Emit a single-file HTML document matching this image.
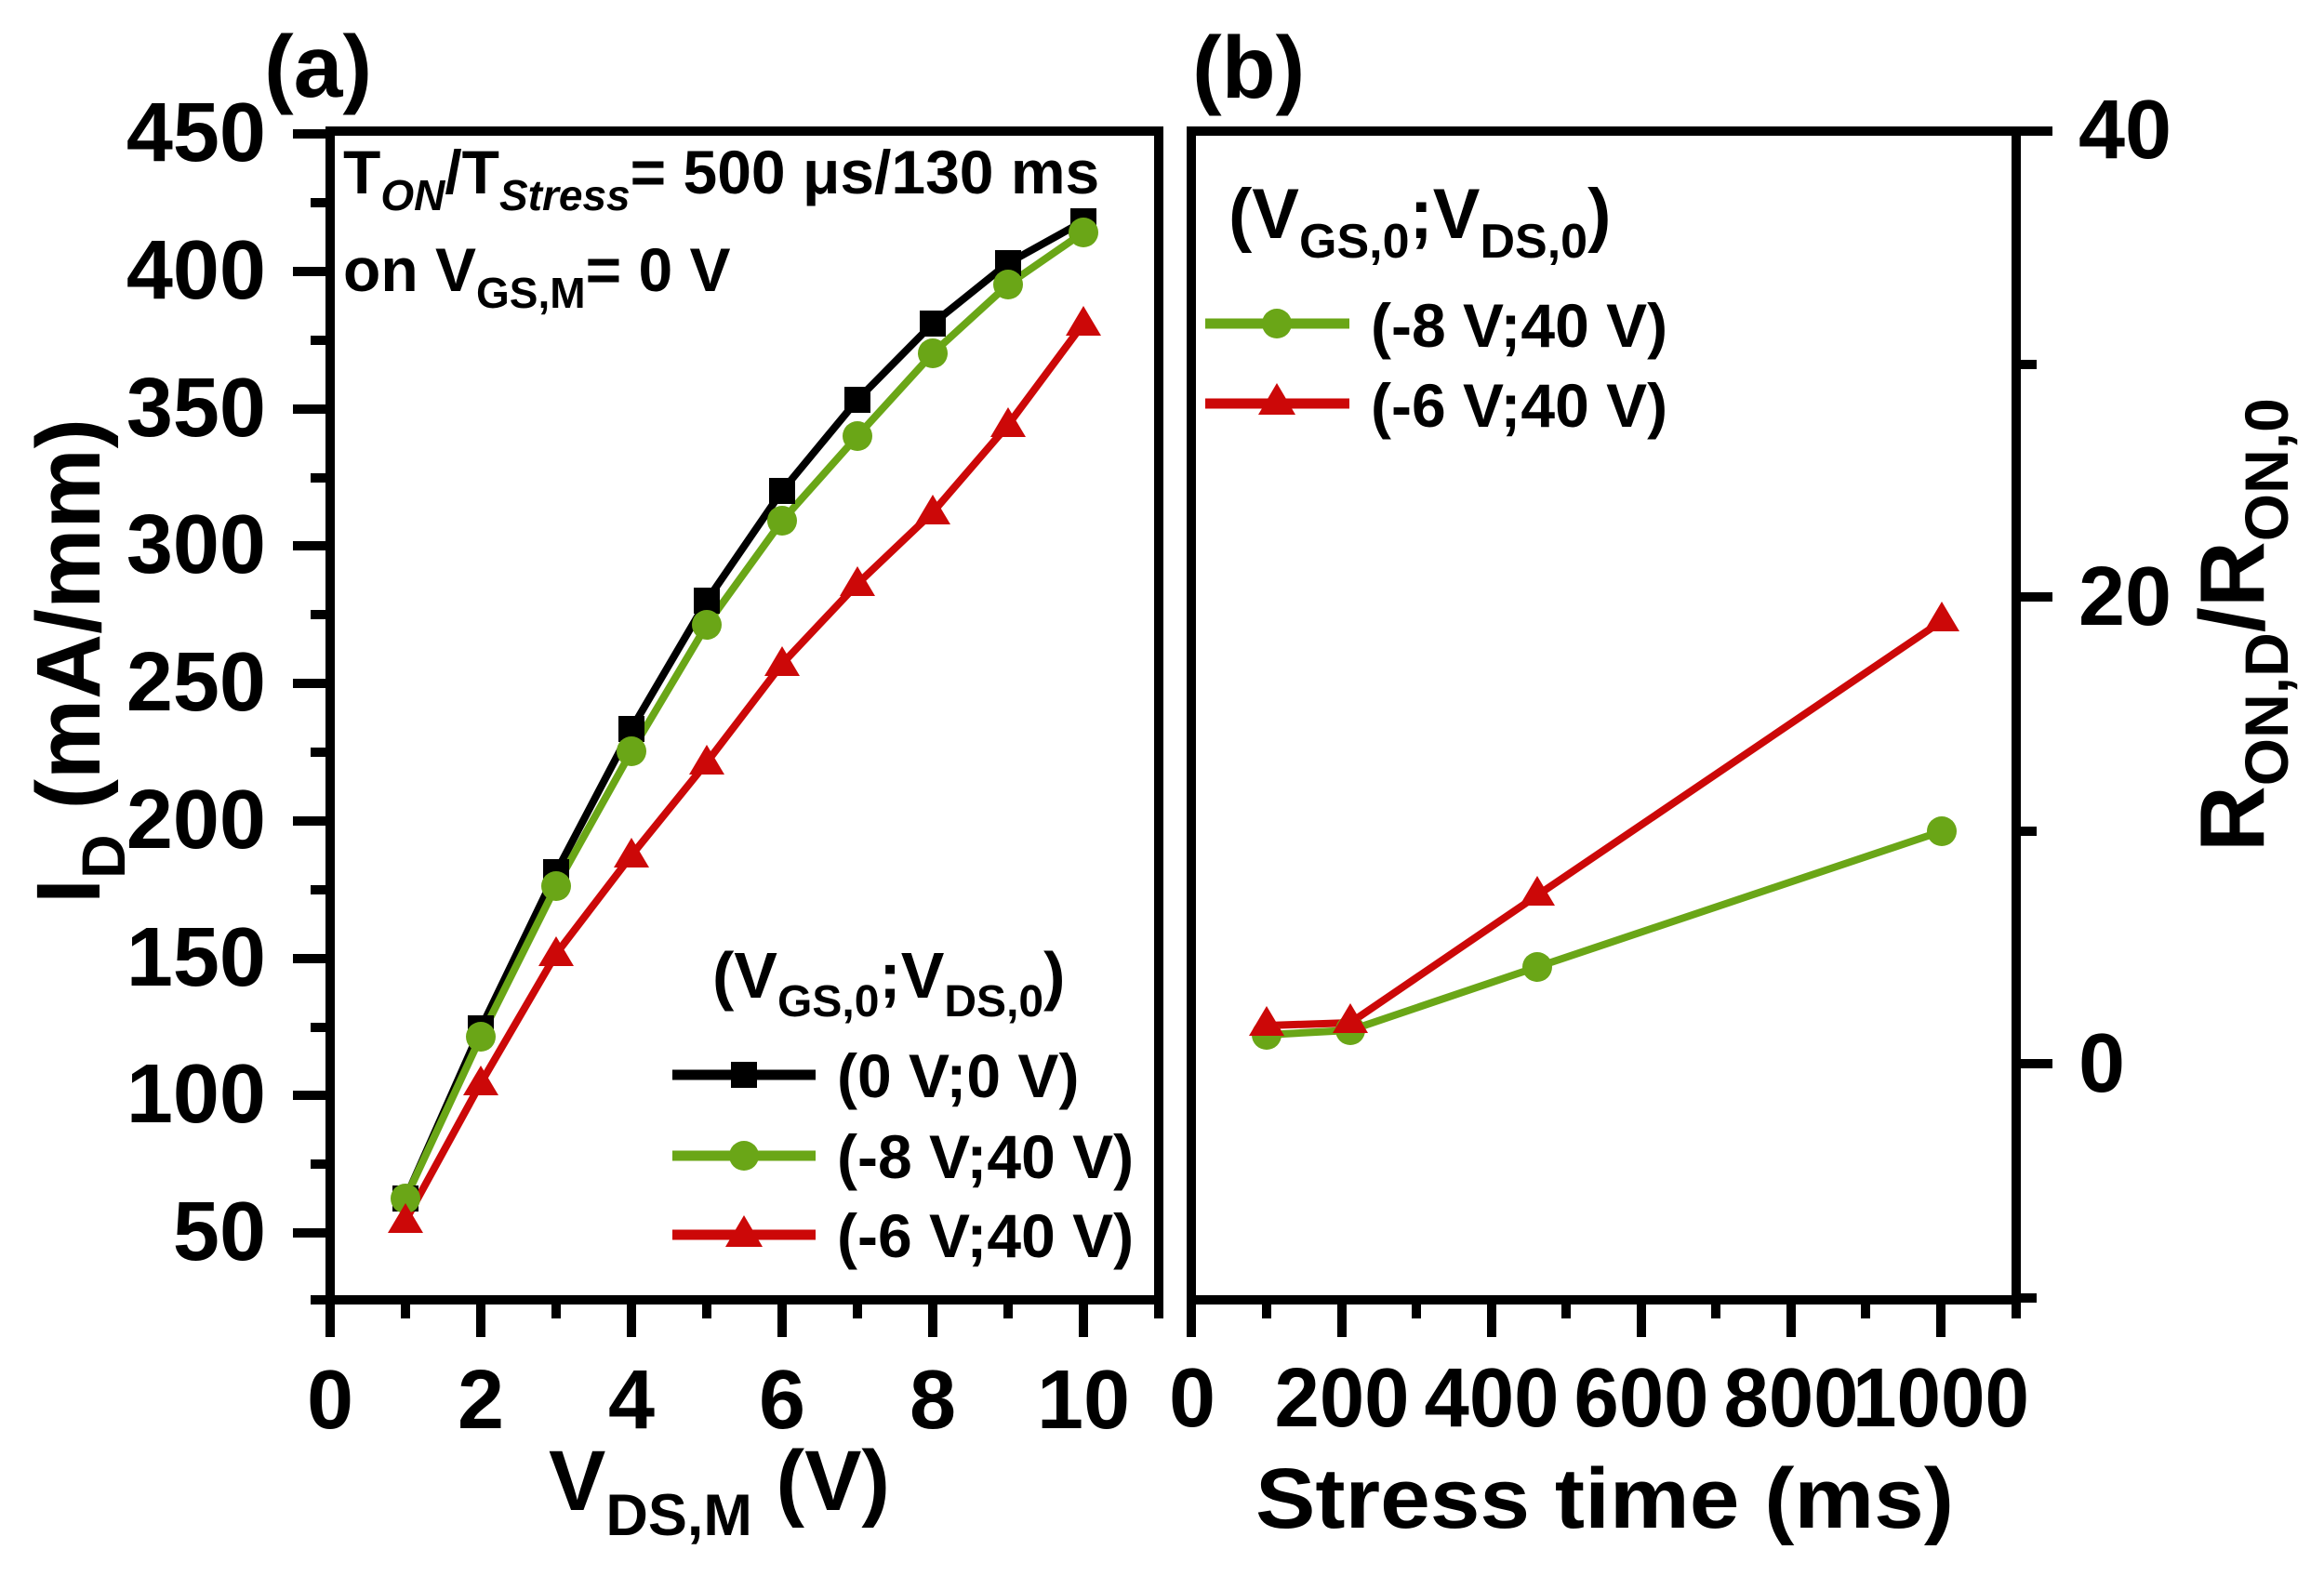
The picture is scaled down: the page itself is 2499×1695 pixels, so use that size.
<!DOCTYPE html>
<html><head><meta charset="utf-8"><style>
html,body{margin:0;padding:0;background:#fff}
svg{display:block}
text{font-family:"Liberation Sans",Arial,sans-serif;font-weight:bold;fill:#000}
</style></head><body>
<svg width="2499" height="1695" viewBox="0 0 2499 1695" xmlns="http://www.w3.org/2000/svg">
<rect x="355" y="141" width="891" height="1257" fill="none" stroke="#000" stroke-width="10"/>
<g stroke="#000" stroke-width="10">
<line x1="315" y1="144" x2="355" y2="144"/><line x1="334" y1="218" x2="355" y2="218"/>
<line x1="315" y1="292" x2="355" y2="292"/><line x1="334" y1="366" x2="355" y2="366"/>
<line x1="315" y1="440" x2="355" y2="440"/><line x1="334" y1="514" x2="355" y2="514"/>
<line x1="315" y1="587" x2="355" y2="587"/><line x1="334" y1="661" x2="355" y2="661"/>
<line x1="315" y1="735" x2="355" y2="735"/><line x1="334" y1="809" x2="355" y2="809"/>
<line x1="315" y1="883" x2="355" y2="883"/><line x1="334" y1="957" x2="355" y2="957"/>
<line x1="315" y1="1031" x2="355" y2="1031"/><line x1="334" y1="1105" x2="355" y2="1105"/>
<line x1="315" y1="1178" x2="355" y2="1178"/><line x1="334" y1="1252" x2="355" y2="1252"/>
<line x1="315" y1="1326" x2="355" y2="1326"/><line x1="334" y1="1398" x2="355" y2="1398"/>
<line x1="355" y1="1398" x2="355" y2="1438"/><line x1="436" y1="1398" x2="436" y2="1418"/>
<line x1="517" y1="1398" x2="517" y2="1438"/><line x1="598" y1="1398" x2="598" y2="1418"/>
<line x1="679" y1="1398" x2="679" y2="1438"/><line x1="760" y1="1398" x2="760" y2="1418"/>
<line x1="841" y1="1398" x2="841" y2="1438"/><line x1="922" y1="1398" x2="922" y2="1418"/>
<line x1="1003" y1="1398" x2="1003" y2="1438"/><line x1="1084" y1="1398" x2="1084" y2="1418"/>
<line x1="1165" y1="1398" x2="1165" y2="1438"/><line x1="1246" y1="1398" x2="1246" y2="1418"/>
</g>
<g font-size="90" text-anchor="end">
<text x="286" y="173">450</text><text x="286" y="321">400</text><text x="286" y="469">350</text>
<text x="286" y="616">300</text><text x="286" y="764">250</text><text x="286" y="912">200</text>
<text x="286" y="1060">150</text><text x="286" y="1207">100</text><text x="286" y="1355">50</text>
</g>
<g font-size="90" text-anchor="middle">
<text x="355" y="1536">0</text><text x="517" y="1536">2</text><text x="679" y="1536">4</text>
<text x="841" y="1536">6</text><text x="1003" y="1536">8</text><text x="1165" y="1536">10</text>
</g>
<text x="284" y="104" font-size="95">(a)</text>
<text x="590" y="1624" font-size="92">V<tspan font-size="63" dy="27">DS,M</tspan><tspan dy="-27"> (V)</tspan></text>
<text transform="translate(107,972) rotate(-90)" font-size="97">I<tspan font-size="66" dy="27">D</tspan><tspan dy="-27"> (mA/mm)</tspan></text>
<text x="369" y="208" font-size="66">T<tspan font-size="46" font-style="italic" dy="18">ON</tspan><tspan dy="-18">/T</tspan><tspan font-size="46" font-style="italic" dy="18">Stress</tspan><tspan dy="-18">= 500 μs/130 ms</tspan></text>
<text x="369" y="313" font-size="66">on V<tspan font-size="46" dy="18">GS,M</tspan><tspan dy="-18">= 0 V</tspan></text>
<g fill="none" stroke-width="8" stroke-linejoin="round">
<polyline stroke="#000" points="436,1289 517,1106 598,938 679,784 760,646 841,528 922,430 1003,348 1084,283 1165,238"/>
<polyline stroke="#6aa617" points="436,1289 517,1115 598,953 679,808 760,672 841,560 922,469 1003,380 1084,306 1165,250"/>
<polyline stroke="#cc0808" points="436,1313 517,1165 598,1026 679,920 760,820 841,714 922,628 1003,551 1084,457 1165,348"/>
</g>
<g fill="#000">
<rect x="422" y="1275" width="28" height="28"/><rect x="503" y="1092" width="28" height="28"/><rect x="584" y="924" width="28" height="28"/><rect x="665" y="770" width="28" height="28"/><rect x="746" y="632" width="28" height="28"/><rect x="827" y="514" width="28" height="28"/><rect x="908" y="416" width="28" height="28"/><rect x="989" y="334" width="28" height="28"/><rect x="1070" y="269" width="28" height="28"/><rect x="1151" y="224" width="28" height="28"/>
</g>
<g fill="#6aa617">
<circle cx="436" cy="1289" r="16"/><circle cx="517" cy="1115" r="16"/><circle cx="598" cy="953" r="16"/><circle cx="679" cy="808" r="16"/><circle cx="760" cy="672" r="16"/><circle cx="841" cy="560" r="16"/><circle cx="922" cy="469" r="16"/><circle cx="1003" cy="380" r="16"/><circle cx="1084" cy="306" r="16"/><circle cx="1165" cy="250" r="16"/>
</g>
<g fill="#cc0808">
<path d="M436,1294 l-19,32 h38z M517,1146 l-19,32 h38z M598,1007 l-19,32 h38z M679,901 l-19,32 h38z M760,801 l-19,32 h38z M841,695 l-19,32 h38z M922,609 l-19,32 h38z M1003,532 l-19,32 h38z M1084,438 l-19,32 h38z M1165,329 l-19,32 h38z"/>
</g>
<text x="766" y="1073" font-size="70">(V<tspan font-size="48" dy="20">GS,0</tspan><tspan dy="-20">;V</tspan><tspan font-size="48" dy="20">DS,0</tspan><tspan dy="-20">)</tspan></text>
<line x1="723" y1="1156" x2="877" y2="1156" stroke="#000" stroke-width="11"/><rect x="786" y="1142" width="28" height="28"/>
<line x1="723" y1="1243" x2="877" y2="1243" stroke="#6aa617" stroke-width="11"/><circle cx="800" cy="1243" r="16" fill="#6aa617"/>
<line x1="723" y1="1328" x2="877" y2="1328" stroke="#cc0808" stroke-width="11"/><path d="M800,1307 l-20,34 h40z" fill="#cc0808"/>
<g font-size="66"><text x="900" y="1180">(0 V;0 V)</text><text x="900" y="1267">(-8 V;40 V)</text><text x="900" y="1352">(-6 V;40 V)</text></g>

<rect x="1281" y="141" width="887" height="1257" fill="none" stroke="#000" stroke-width="10"/>
<g stroke="#000" stroke-width="10">
<line x1="2168" y1="141" x2="2207" y2="141"/><line x1="2168" y1="392" x2="2190" y2="392"/>
<line x1="2168" y1="642" x2="2207" y2="642"/><line x1="2168" y1="894" x2="2190" y2="894"/>
<line x1="2168" y1="1144" x2="2207" y2="1144"/><line x1="2168" y1="1396" x2="2190" y2="1396"/>
<line x1="1281" y1="1398" x2="1281" y2="1438"/><line x1="1362" y1="1398" x2="1362" y2="1418"/>
<line x1="1443" y1="1398" x2="1443" y2="1438"/><line x1="1523" y1="1398" x2="1523" y2="1418"/>
<line x1="1604" y1="1398" x2="1604" y2="1438"/><line x1="1684" y1="1398" x2="1684" y2="1418"/>
<line x1="1765" y1="1398" x2="1765" y2="1438"/><line x1="1845" y1="1398" x2="1845" y2="1418"/>
<line x1="1926" y1="1398" x2="1926" y2="1438"/><line x1="2006" y1="1398" x2="2006" y2="1418"/>
<line x1="2087" y1="1398" x2="2087" y2="1438"/><line x1="2168" y1="1398" x2="2168" y2="1418"/>
</g>
<g font-size="90">
<text x="2235" y="170">40</text><text x="2235" y="672">20</text><text x="2235" y="1174">0</text>
</g>
<g font-size="90" text-anchor="middle">
<text x="1282" y="1534">0</text>
<text x="1443" y="1534" textLength="145" lengthAdjust="spacingAndGlyphs">200</text>
<text x="1604" y="1534" textLength="145" lengthAdjust="spacingAndGlyphs">400</text>
<text x="1765" y="1534" textLength="145" lengthAdjust="spacingAndGlyphs">600</text>
<text x="1926" y="1534" textLength="145" lengthAdjust="spacingAndGlyphs">800</text>
<text x="2087" y="1534" textLength="190" lengthAdjust="spacingAndGlyphs">1000</text>
</g>
<text x="1282" y="105" font-size="95">(b)</text>
<text x="1350" y="1643" font-size="92" textLength="751" lengthAdjust="spacingAndGlyphs">Stress time (ms)</text>
<text transform="translate(2434,916) rotate(-90)" font-size="98">R<tspan font-size="66" dy="26">ON,D</tspan><tspan dy="-26">/R</tspan><tspan font-size="66" dy="26">ON,0</tspan></text>
<text x="1321" y="256" font-size="76">(V<tspan font-size="52" dy="21">GS,0</tspan><tspan dy="-21">;V</tspan><tspan font-size="52" dy="21">DS,0</tspan><tspan dy="-21">)</tspan></text>
<line x1="1296" y1="348" x2="1451" y2="348" stroke="#6aa617" stroke-width="11"/><circle cx="1373" cy="348" r="16" fill="#6aa617"/>
<line x1="1296" y1="434" x2="1451" y2="434" stroke="#cc0808" stroke-width="11"/><path d="M1373,412 l-20,34 h40z" fill="#cc0808"/>
<g font-size="66"><text x="1474" y="373">(-8 V;40 V)</text><text x="1474" y="459">(-6 V;40 V)</text></g>
<polyline fill="none" stroke="#6aa617" stroke-width="8" points="1362,1113 1452,1108 1653,1040 2088,894"/>
<polyline fill="none" stroke="#cc0808" stroke-width="8" points="1362,1103 1452,1100 1653,963 2088,668"/>
<g fill="#6aa617"><circle cx="1362" cy="1113" r="16"/><circle cx="1452" cy="1108" r="16"/><circle cx="1653" cy="1040" r="16"/><circle cx="2088" cy="894" r="16"/></g>
<path fill="#cc0808" d="M1362,1082 l-19,32 h38z M1452,1079 l-19,32 h38z M1653,942 l-19,32 h38z M2088,647 l-19,32 h38z"/>
</svg>
</body></html>
